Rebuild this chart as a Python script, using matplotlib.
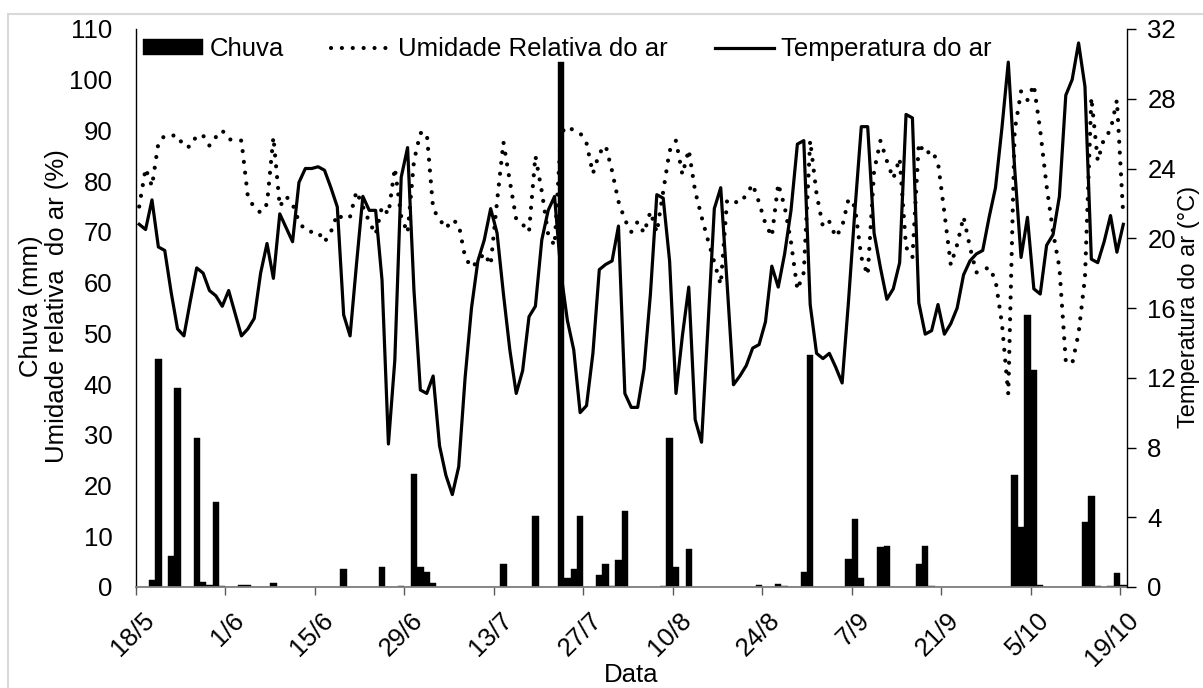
import numpy as np
import matplotlib
matplotlib.use('Agg')
import matplotlib.pyplot as plt
from matplotlib.transforms import ScaledTranslation
from matplotlib.patches import Rectangle

plt.rcParams['font.family'] = ['Liberation Sans', 'DejaVu Sans']

# ---------------- data (daily, 18/5 .. 19/10) ----------------
tick_labels = ["18/5", "1/6", "15/6", "29/6", "13/7", "27/7", "10/8",
               "24/8", "7/9", "21/9", "5/10", "19/10"]
tick_days = [0, 14, 28, 42, 56, 70, 84, 98, 112, 126, 140, 154]

chuva = [0, 0, 1.3, 45, 0, 6.2, 39.2, 0, 0, 29.3,
         1.0, 0.3, 16.8, 0.2, 0, 0, 0.4, 0.4, 0, 0,
         0, 0.7, 0, 0, 0, 0, 0, 0, 0, 0,
         0, 0, 3.5, 0, 0, 0, 0, 0, 3.9, 0,
         0, 0.2, 0, 22.3, 3.9, 3.0, 0.7, 0, 0, 0,
         0, 0, 0, 0, 0, 0, 0, 4.5, 0, 0,
         0, 0, 13.9, 0, 0, 0, 103.5, 1.7, 3.5, 13.9,
         0, 0, 2.4, 4.5, 0.2, 5.3, 14.9, 0, 0, 0,
         0, 0, 0.2, 29.3, 3.9, 0, 7.5, 0, 0, 0,
         0, 0, 0, 0, 0, 0, 0, 0.4, 0, 0,
         0.6, 0.2, 0, 0, 3.0, 45.8, 0, 0, 0, 0,
         0, 5.5, 13.4, 1.7, 0, 0, 7.8, 8.1, 0, 0,
         0, 0, 4.5, 8.0, 0.2, 0, 0, 0, 0, 0,
         0, 0, 0, 0, 0, 0, 0, 22.0, 11.9, 53.6,
         42.8, 0.3, 0, 0, 0, 0, 0, 0, 12.8, 18.0,
         0.2, 0, 0.2, 2.7, 0.3]

umidade = [75, 82.5, 79, 87.5, 89, 89, 89, 86.8, 86.8, 89,
           89, 87, 88.7, 90, 88.3, 88, 88, 77, 74.8, 73.8,
           75.5, 88.7, 75, 77, 75.5, 72, 70.3, 70, 70, 68,
           70, 73.5, 72.5, 73, 78, 75, 72, 69.5, 75, 73.5,
           82.6, 73, 69.8, 84, 89.5, 89.5, 74.5, 72.5, 70.7, 72.4,
           71.5, 65, 63, 64.2, 65.8, 63.5, 76, 87.7, 80, 72.5,
           71.5, 70, 85, 78, 69.5, 67.3, 89.5, 90.8, 90, 89.5,
           87.5, 81.5, 85.5, 87, 82, 76, 72.4, 70, 72, 69.8,
           74, 69.9, 78, 86, 88, 81.3, 86.2, 78, 73, 68.4,
           64, 59.6, 76.3, 76, 75.7, 77.3, 79.4, 75.8, 71.6, 69.1,
           79.5, 75, 68, 58.6, 62, 88, 77.5, 71, 72, 69,
           71, 76.5, 75, 65, 61.5, 82, 88, 84, 80.5, 84.5,
           67, 65, 87.5, 85.3, 86.1, 83.7, 73.8, 63.5, 67.5, 73,
           67, 62, 62.5, 63, 60.5, 52, 38, 90, 97.7, 96,
           99, 90, 79, 70, 63, 44.5, 44, 50, 61, 96.5,
           84, 88.5, 90, 96, 73]

temperatura = [20.8, 20.5, 22.2, 19.5, 19.3, 16.9, 14.8, 14.4, 16.4, 18.3,
               18.0, 17.0, 16.7, 16.1, 17.0, 15.7, 14.4, 14.8, 15.4, 18.0,
               19.7, 17.7, 21.4, 20.6, 19.8, 23.2, 24.0, 24.0, 24.1, 23.9,
               22.9, 21.8, 15.6, 14.4, 18.5, 22.4, 21.6, 21.6, 17.6, 8.2,
               13.0, 23.5, 25.2, 17.0, 11.3, 11.1, 12.1, 8.1, 6.4, 5.3,
               6.9, 12.0, 16.0, 18.7, 19.9, 21.7, 20.3, 16.8, 13.6, 11.1,
               12.4, 15.5, 16.1, 19.9, 21.6, 22.4, 18.0, 15.3, 13.6, 10.0,
               10.4, 13.4, 18.2, 18.5, 18.7, 20.7, 11.1, 10.3, 10.3, 12.5,
               16.8, 22.5, 22.3, 18.7, 11.1, 14.4, 17.2, 9.6, 8.3, 14.9,
               21.7, 22.9, 17.4, 11.6, 12.1, 12.7, 13.7, 13.9, 15.2, 18.4,
               17.2, 19.1, 21.6, 25.4, 25.6, 16.2, 13.4, 13.1, 13.4, 12.6,
               11.7, 16.4, 21.6, 26.4, 26.4, 20.3, 18.3, 16.5, 17.1, 18.6,
               27.1, 26.9, 16.3, 14.5, 14.7, 16.2, 14.5, 15.1, 16.0, 17.9,
               18.7, 19.1, 19.3, 21.2, 22.9, 26.3, 30.1, 24.0, 18.9, 21.2,
               17.1, 16.8, 19.6, 20.2, 22.4, 28.2, 29.1, 31.2, 28.7, 18.8,
               18.6, 19.8, 21.3, 19.2, 20.8]

# ---------------- figure ----------------
W, H = 1203, 688
FS = 18.5
fig = plt.figure(figsize=(W / 100, H / 100), dpi=100)
fig.patch.set_facecolor('white')

ax = fig.add_axes([136 / W, 1 - 587 / H, (1126.5 - 136) / W, (587 - 29) / H])
ax2 = ax.twinx()

x = np.arange(len(chuva)) + 0.5
bars = ax.bar(x, chuva, width=1.0, color='black', linewidth=0.3,
              edgecolor='black', label='Chuva', zorder=2)
rh_line, = ax.plot(x, umidade, color='black', lw=3.0,
                   linestyle=(0, (0.01, 2.6)), dash_capstyle='round',
                   label='Umidade Relativa do ar', zorder=3)
t_line, = ax2.plot(x, temperatura, color='black', lw=2.3,
                   solid_joinstyle='round', label='Temperatura do ar', zorder=4)

ax.set_xlim(0, 155)
ax.set_ylim(0, 110)
ax2.set_ylim(0, 32)
ax.set_yticks(range(0, 111, 10))
ax2.set_yticks(range(0, 33, 4))
ax.set_xticks(tick_days)
ax.set_xticklabels(tick_labels, rotation=45, ha='right', va='top',
                   rotation_mode='anchor')

ax.tick_params(axis='y', length=0, pad=17, labelsize=FS)
ax.tick_params(axis='x', length=6, width=1, color='#595959', pad=9,
               labelsize=FS, direction='out')
ax2.tick_params(axis='y', length=6.5, width=1, color='black', pad=8.5,
                labelsize=FS, direction='out')

shift = ScaledTranslation(0.06, 0, fig.dpi_scale_trans)
for lab in ax.get_xticklabels():
    lab.set_transform(lab.get_transform() + shift)

for a in (ax, ax2):
    a.spines['top'].set_visible(False)
ax.spines['right'].set_visible(False)
ax2.spines['left'].set_visible(False)
ax2.spines['bottom'].set_visible(False)
ax.spines['bottom'].set_color('#7f7f7f')
ax.spines['bottom'].set_linewidth(1.3)
ax.spines['left'].set_color('black')
ax.spines['left'].set_linewidth(1.0)
ax2.spines['right'].set_color('black')
ax2.spines['right'].set_linewidth(1.0)

fig.legend([bars, rh_line, t_line],
           ['Chuva', 'Umidade Relativa do ar', 'Temperatura do ar'],
           loc='center left', bbox_to_anchor=(143 / W, 1 - 49 / H),
           ncol=3, frameon=False, fontsize=FS, handlelength=2.33,
           handletextpad=0.27, columnspacing=1.83, handleheight=0.55,
           borderpad=0, borderaxespad=0)

fig.text(44 / W, 1 - 306 / H, "Chuva (mm)\nUmidade relativa  do ar (%)",
         rotation=90, ha='center', va='center', multialignment='center',
         fontsize=FS, linespacing=1.1)
fig.text(1189 / W, 1 - 307 / H, "Temperatura do ar (°C)", rotation=90,
         ha='center', va='center', fontsize=17)
fig.text(631.5 / W, 1 - 682 / H, "Data", ha='center', va='baseline',
         fontsize=FS)

fig.add_artist(Rectangle((8 / W, -0.05), 1.2, (688 - 14) / H + 0.05,
                         transform=fig.transFigure, fill=False,
                         edgecolor='#d9d9d9', lw=1.5, clip_on=False))

fig.savefig('out.png', dpi=100)
